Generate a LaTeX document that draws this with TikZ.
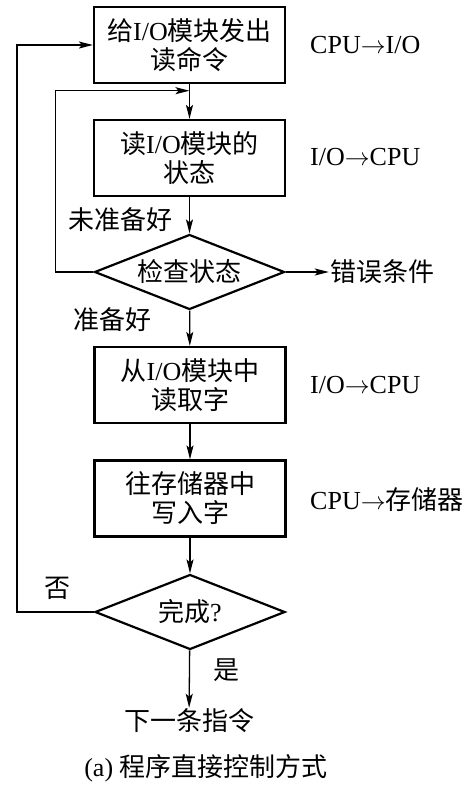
\documentclass[tikz,border=0pt]{standalone}
\usepackage{fontspec}
\setmainfont{Liberation Serif}
\newfontfamily\cjk{Noto Sans CJK SC}
\usetikzlibrary{arrows.meta}
\usetikzlibrary{shapes.geometric}
\usetikzlibrary{calc}
\newcommand{\zh}[1]{{\cjk #1}}

\begin{document}
\begin{tikzpicture}[x=1pt,y=-1pt,
    font=\fontsize{26}{29}\selectfont,
    procbox/.style={draw,line width=2.2pt,minimum width=191pt,minimum height=76pt,align=center,inner sep=0pt},
    checkbox/.style={draw,diamond,aspect=2.5,line width=2.2pt,minimum width=190pt,minimum height=75pt,inner sep=0pt},
    arr/.style={line width=1.3pt,-{Stealth[length=14pt,width=7pt,inset=3pt]}},
    txt/.style={inner sep=1pt}]
    \useasboundingbox (0,0) rectangle (476,788);
    % flow nodes
    \node[procbox] (send) at (189.5,45) {\zh{给}I/O\zh{模块发出}\\\zh{读命令}};
    \node[procbox] (stat) at (189.5,158) {\zh{读}I/O\zh{模块的}\\\zh{状态}};
    \node[checkbox] (check) at (189.5,272) {\zh{检查状态}};
    \node[procbox] (rdword) at (190,385) {\zh{从}I/O\zh{模块中}\\\zh{读取字}};
    \node[procbox] (wrmem) at (190,498.5) {\zh{往存储器中}\\\zh{写入字}};
    \node[checkbox] (done) at (190,612) {\zh{完成}?};
    \node[txt] (next) at (189,721) {\zh{下一条指令}};
    \node[txt] (err) at (382,272) {\zh{错误条件}};
    % side notes
    \node[txt,anchor=west] (n1) at (309,45) {CPU$\rightarrow$I/O};
    \node[txt,anchor=west] (n2) at (309,157) {I/O$\rightarrow$CPU};
    \node[txt,anchor=west] (n3) at (309,385) {I/O$\rightarrow$CPU};
    \node[txt,anchor=west] (n4) at (309,500) {CPU$\rightarrow$\zh{存储器}};
    % branch labels
    \node[txt] (notrdy) at (120,220) {\zh{未准备好}};
    \node[txt] (rdy) at (112,320) {\zh{准备好}};
    \node[txt] (no) at (57,588) {\zh{否}};
    \node[txt] (yes) at (226,670) {\zh{是}};
    \node[txt] (cap) at (206,768) {(a) \zh{程序直接控制方式}};
    % connectors
    \coordinate (back) at ($(send.south)!0.19!(stat.north)$);
    \draw[arr] (send) -- (stat);
    \draw[arr] (stat) -- (check);
    \draw[arr] (check) -- (rdword);
    \draw[arr] (rdword) -- (wrmem);
    \draw[arr] (wrmem) -- (done);
    \draw[arr] (done) -- (next);
    \draw[arr] (check.east) -- (err.west);
    \draw[arr] (check.west) -- ++(-38,0) |- (back);
    \draw[arr] (done.west) -- ++(-77,0) |- (send.west);
\end{tikzpicture}
\end{document}
